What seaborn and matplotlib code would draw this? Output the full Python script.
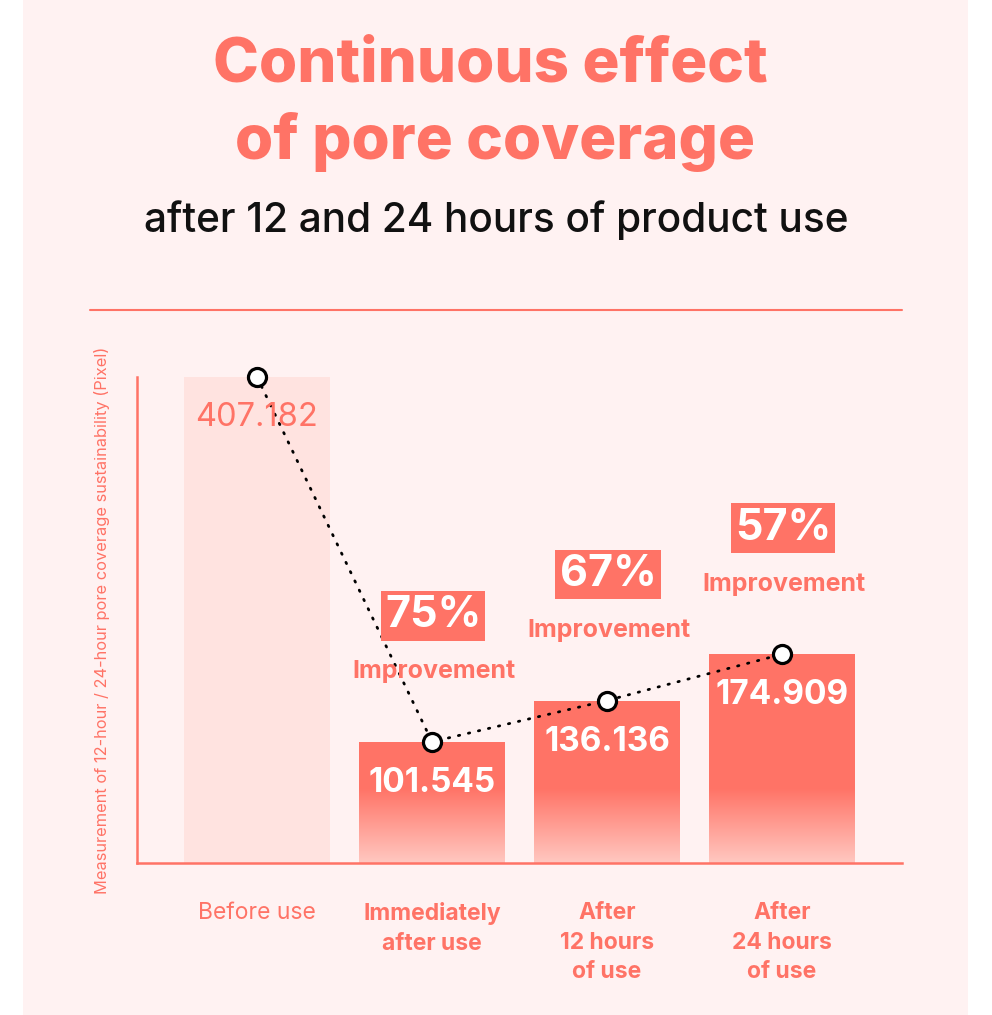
import matplotlib
matplotlib.use("Agg")
import matplotlib.pyplot as plt
from matplotlib.patches import Rectangle
from matplotlib.lines import Line2D
from matplotlib.colors import LinearSegmentedColormap
import numpy as np
import pandas as pd
import seaborn as sns

# data
categories = ["Before use", "Immediately\nafter use", "After\n12 hours\nof use", "After\n24 hours\nof use"]
values = [407.182, 101.545, 136.136, 174.909]
value_labels = ["407.182", "101.545", "136.136", "174.909"]
improvements = [None, "75%", "67%", "57%"]

CORAL = "#FF7366"
LIGHT = "#FFE3E0"
PANEL = "#FFF2F2"
W, H = 992, 1015

sns.set_theme(style="white")
plt.rcParams["font.family"] = ["Inter", "DejaVu Sans"]

fig = plt.figure(figsize=(W / 100, H / 100), dpi=100, facecolor="white")
fig.add_artist(Rectangle((23 / W, 0), (968 - 23) / W, 1, transform=fig.transFigure,
                         facecolor=PANEL, edgecolor="none", zorder=0))


def fy(y):
    return 1 - y / H


# title block
fig.text(490 / W, fy(65), "Continuous effect", ha="center", va="center",
         color=CORAL, fontsize=44.5, fontweight="heavy")
fig.text(495 / W, fy(142), "of pore coverage", ha="center", va="center",
         color=CORAL, fontsize=44.5, fontweight="heavy")
fig.text(496 / W, fy(220), "after 12 and 24 hours of product use", ha="center", va="center",
         color="#111111", fontsize=29.2, fontweight="medium")
fig.add_artist(Line2D([90 / W, 902 / W], [fy(310), fy(310)], transform=fig.transFigure,
                      color=CORAL, lw=1.5))

ax = fig.add_axes([137 / W, fy(863), (902 - 137) / W, (863 - 377) / H])
ax.set_facecolor("none")

df = pd.DataFrame({"stage": categories, "value": values})
sns.barplot(data=df, x="stage", y="value", hue="stage",
            palette=[LIGHT, CORAL, CORAL, CORAL], width=0.83, legend=False,
            saturation=1, errorbar=None, ax=ax)

# fade the lower part of the coral bars
fade = LinearSegmentedColormap.from_list("fade", ["#FFC8C1", CORAL])
grad = np.linspace(0, 1, 256).reshape(-1, 1)
for i, bar in enumerate(ax.patches):
    bar.set_edgecolor("none")
    if i == 0:
        continue
    x0 = bar.get_x()
    im = ax.imshow(grad, cmap=fade, origin="lower", aspect="auto",
                   extent=[x0, x0 + bar.get_width(), 0, 62], zorder=bar.get_zorder() + 0.1)
    im.set_clip_path(bar)

xs = np.arange(len(values))
sns.lineplot(x=xs, y=values, ax=ax, color="black", lw=2,
             linestyle=(0, (0.5, 3.2)), dash_capstyle="round",
             marker="o", markersize=13, markerfacecolor="white",
             markeredgecolor="black", markeredgewidth=2.3, zorder=5, clip_on=False)

ax.set_xlim(-0.686, 3.686)
ax.set_ylim(0, 407.182)

for i, (v, lab) in enumerate(zip(values, value_labels)):
    if i == 0:
        ax.annotate(lab, (i, v), xytext=(0, -41), textcoords="offset pixels",
                    ha="center", va="center", color=CORAL, fontsize=23.5, zorder=6)
    else:
        ax.annotate(lab, (i, v), xytext=(0, -41), textcoords="offset pixels",
                    ha="center", va="center", color="white", fontsize=24,
                    fontweight="bold", zorder=6)
    if improvements[i]:
        ax.annotate("Improvement", (i, v), xytext=(2, 70), textcoords="offset pixels",
                    ha="center", va="center", color=CORAL, fontsize=18,
                    fontweight="bold", zorder=6, annotation_clip=False)
        ax.annotate(improvements[i], (i, v), xytext=(1, 126), textcoords="offset pixels",
                    ha="center", va="center", color="white", fontsize=31,
                    fontweight="bold", zorder=6, annotation_clip=False,
                    bbox=dict(boxstyle="square,pad=0.1", fc=CORAL, ec="none"))

sns.despine(ax=ax)
for side in ["left", "bottom"]:
    ax.spines[side].set_color(CORAL)
    ax.spines[side].set_linewidth(1.8)

ax.set_yticks([])
ax.set_xticks(xs)
ax.set_xticklabels(categories, linespacing=1.45)
ax.tick_params(axis="x", length=0, pad=28, labelsize=16.5, labelcolor=CORAL)
for i, t in enumerate(ax.get_xticklabels()):
    t.set_va("top")
    t.set_fontweight("normal" if i == 0 else "bold")
ax.set_xlabel("")
ax.set_ylabel("Measurement of 12-hour / 24-hour pore coverage sustainability (Pixel)",
              color=CORAL, fontsize=11.8)
ax.yaxis.set_label_coords((110 - 137) / (902 - 137), (863 - 620) / (863 - 377))

fig.savefig("out.png", dpi=100, facecolor="white")
